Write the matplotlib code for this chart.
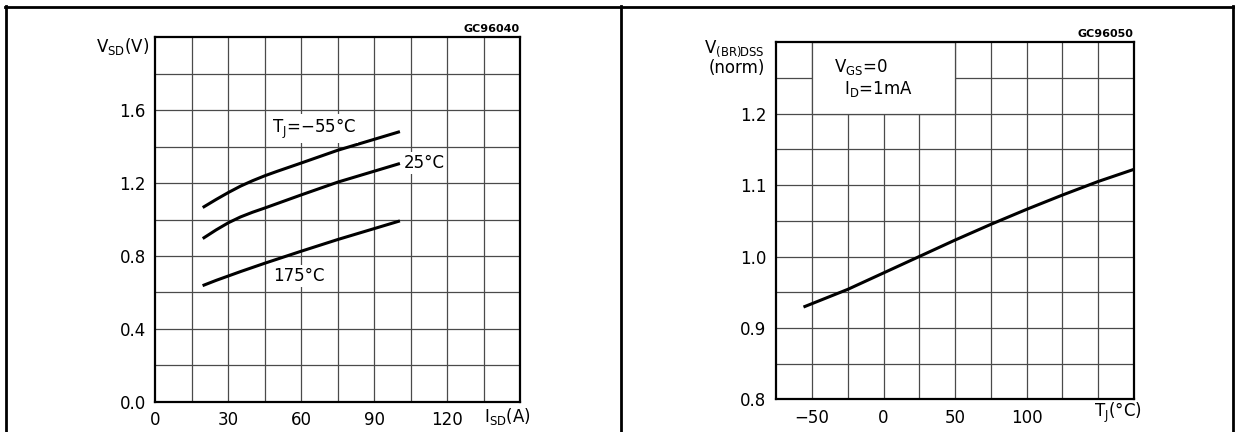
import numpy as np
import matplotlib
matplotlib.use("Agg")
import matplotlib.pyplot as plt
from matplotlib.lines import Line2D
from matplotlib.patches import Rectangle

plt.rcParams["font.family"] = "DejaVu Sans"
plt.rcParams["mathtext.fontset"] = "dejavusans"

# left chart: source-drain diode forward characteristics
isd = [20, 25, 30, 35, 40, 45, 50, 60, 75, 90, 100]
vsd_m55 = [1.07, 1.11, 1.148, 1.183, 1.213, 1.24, 1.264, 1.31, 1.38, 1.44, 1.48]
vsd_25 = [0.90, 0.943, 0.982, 1.014, 1.04, 1.063, 1.087, 1.135, 1.205, 1.265, 1.305]
vsd_175 = [0.64, 0.666, 0.69, 0.714, 0.737, 0.76, 0.782, 0.826, 0.89, 0.95, 0.99]
left_xticks = [0, 30, 60, 90, 120]
left_yticks = [0.0, 0.4, 0.8, 1.2, 1.6]

# right chart: normalized breakdown voltage vs temperature
tj = [-55, -25, 0, 25, 50, 75, 100, 125, 150, 175]
vbr = [0.930, 0.954, 0.977, 1.0, 1.023, 1.045, 1.066, 1.086, 1.105, 1.122]
right_xticks = [-50, 0, 50, 100]
right_yticks = [0.8, 0.9, 1.0, 1.1, 1.2]

W, H = 1235, 432
fig = plt.figure(figsize=(W / 100, H / 100), dpi=100)

GRID = "#4a4a4a"
FS = 12


def setup(ax, xlim, ylim, xstep, ystep, xticks, yticks, ylabfmt):
    ax.set_xlim(*xlim)
    ax.set_ylim(*ylim)
    for x in np.arange(xlim[0] + xstep, xlim[1] - xstep / 2, xstep):
        ax.axvline(x, color=GRID, lw=0.9, zorder=1)
    for y in np.arange(ylim[0] + ystep, ylim[1] - ystep / 2, ystep):
        ax.axhline(y, color=GRID, lw=0.9, zorder=1)
    ax.set_xticks(xticks)
    ax.set_yticks(yticks)
    ax.set_yticklabels([ylabfmt % v for v in yticks])
    ax.tick_params(length=0, labelsize=FS, pad=7)
    for s in ax.spines.values():
        s.set_linewidth(1.6)


# ---- left
ax1 = fig.add_axes([155.4 / W, 1 - 401.7 / H, 364.6 / W, 364.4 / H])
setup(ax1, (0, 150), (0, 2.0), 15, 0.2, left_xticks, left_yticks, "%.1f")
ax1.plot(isd, vsd_m55, color="black", lw=2.2, zorder=3, solid_joinstyle="round")
ax1.plot(isd, vsd_25, color="black", lw=2.2, zorder=3, solid_joinstyle="round")
ax1.plot(isd, vsd_175, color="black", lw=2.2, zorder=3, solid_joinstyle="round")
box = dict(facecolor="white", edgecolor="none", pad=1.5)
ax1.text(48, 1.50, "T$_{\\rm J}$=\u221255\u00b0C", fontsize=FS, va="center", ha="left", bbox=box, zorder=4)
ax1.text(102, 1.312, "25\u00b0C", fontsize=FS, va="center", ha="left", bbox=box, zorder=4)
ax1.text(48.6, 0.69, "175\u00b0C", fontsize=FS, va="center", ha="left", bbox=box, zorder=4)
ax1.text(-0.016, 0.974, "V$_{\\rm SD}$(V)", transform=ax1.transAxes, fontsize=FS, ha="right", va="center")
ax1.text(1.0, 1.022, "GC96040", transform=ax1.transAxes, fontsize=8, fontweight="bold", ha="right", va="center")
ax1.text(145, -0.041, "I$_{\\rm SD}$(A)", transform=ax1.get_xaxis_transform(), fontsize=FS, ha="center", va="center")

# ---- right
ax2 = fig.add_axes([776.3 / W, 1 - 399.3 / H, 357.5 / W, 357.0 / H])
setup(ax2, (-75, 175), (0.8, 1.3), 25, 0.05, right_xticks, right_yticks, "%.1f")
ax2.set_xticklabels(["\u221250", "0", "50", "100"])
ax2.add_patch(Rectangle((-50, 1.2), 100, 0.1, facecolor="white", edgecolor=GRID, lw=0.9, zorder=2))
ax2.plot(tj, vbr, color="black", lw=2.2, zorder=3, solid_joinstyle="round")
ax2.text(-34.9, 1.266, "V$_{\\rm GS}$=0", fontsize=FS, ha="left", va="center", zorder=4)
ax2.text(-27.4, 1.234, "I$_{\\rm D}$=1mA", fontsize=FS, ha="left", va="center", zorder=4)
ax2.text(-0.032, 0.983, "V$_{\\rm (BR)DSS}$", transform=ax2.transAxes, fontsize=FS, ha="right", va="center")
ax2.text(-0.032, 0.927, "(norm)", transform=ax2.transAxes, fontsize=FS, ha="right", va="center")
ax2.text(1.0, 1.022, "GC96050", transform=ax2.transAxes, fontsize=8, fontweight="bold", ha="right", va="center")
ax2.text(164, -0.038, "T$_{\\rm J}$(\u00b0C)", transform=ax2.get_xaxis_transform(), fontsize=FS, ha="center", va="center")

# panel frames
def fl(x0, y0, x1, y1):
    fig.add_artist(Line2D([x0 / W, x1 / W], [1 - y0 / H, 1 - y1 / H], color="black", lw=2))

fl(5, 6.5, 1234, 6.5)
fl(5.5, 6, 5.5, 432)
fl(620.5, 6, 620.5, 432)
fl(1233, 6, 1233, 432)

plt.savefig("out.png", dpi=100)
